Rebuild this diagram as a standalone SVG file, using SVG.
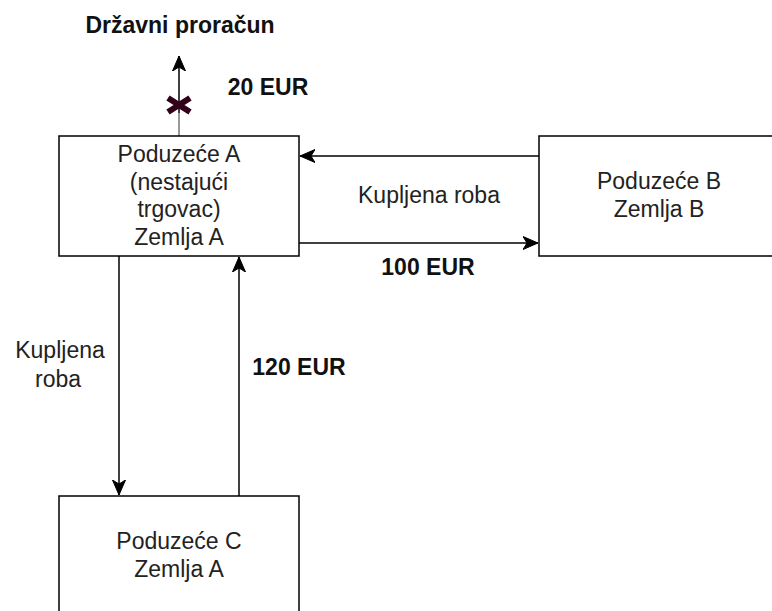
<svg xmlns="http://www.w3.org/2000/svg" width="772" height="611" viewBox="0 0 772 611">
<defs>
<marker id="arr" markerUnits="userSpaceOnUse" markerWidth="16" markerHeight="14" viewBox="0 0 16 14" refX="15" refY="7" orient="auto">
<path d="M15,7 L0,0.5 L4,7 L0,13.5 Z" fill="#000" stroke="#000" stroke-width="1"/>
</marker>
</defs>
<style>
.box{fill:#fff;stroke:#000;stroke-width:1.5}
.t{font-family:"Liberation Sans",Arial,sans-serif;font-size:23px;fill:#222;text-anchor:middle}
.b{font-family:"Liberation Sans",Arial,sans-serif;font-size:23px;font-weight:bold;fill:#111;text-anchor:middle}
.e{fill:none;stroke:#000;stroke-width:1.5}
</style>
<rect width="772" height="611" fill="#fff"/>
<g id="connectors">
<line class="e" x1="179" y1="113" x2="179" y2="56" marker-end="url(#arr)"/>
<line x1="179" y1="136" x2="179" y2="113" stroke="#777" stroke-width="1.5"/>
<path d="M168,98 L190,112 M190,98 L168,112" stroke="#33001a" stroke-width="6" fill="none"/>
<line class="e" x1="539" y1="156" x2="300" y2="156" marker-end="url(#arr)"/>
<line class="e" x1="299" y1="243" x2="538" y2="243" marker-end="url(#arr)"/>
<line class="e" x1="119" y1="256" x2="119" y2="495" marker-end="url(#arr)"/>
<line class="e" x1="239" y1="496" x2="239" y2="257" marker-end="url(#arr)"/>
</g>
<g id="nodeA">
<rect class="box" x="59" y="136" width="240" height="120"/>
<text class="t" x="179" y="162">Poduzeće A</text>
<text class="t" x="179" y="190">(nestajući</text>
<text class="t" x="179" y="217">trgovac)</text>
<text class="t" x="179" y="245">Zemlja A</text>
</g>
<g id="nodeB">
<rect class="box" x="539" y="136" width="240" height="120"/>
<text class="t" x="659" y="189">Poduzeće B</text>
<text class="t" x="659" y="217">Zemlja B</text>
</g>
<g id="nodeC">
<rect class="box" x="59" y="496" width="240" height="120"/>
<text class="t" x="179" y="549">Poduzeće C</text>
<text class="t" x="179" y="577">Zemlja A</text>
</g>
<g id="labels">
<text class="b" x="180" y="33">Državni proračun</text>
<text class="b" x="268" y="95">20 EUR</text>
<text class="t" x="429" y="203">Kupljena roba</text>
<text class="b" x="428" y="275">100 EUR</text>
<text class="t" x="60" y="358">Kupljena</text>
<text class="t" x="58" y="387">roba</text>
<text class="b" x="299" y="375">120 EUR</text>
</g>
</svg>
